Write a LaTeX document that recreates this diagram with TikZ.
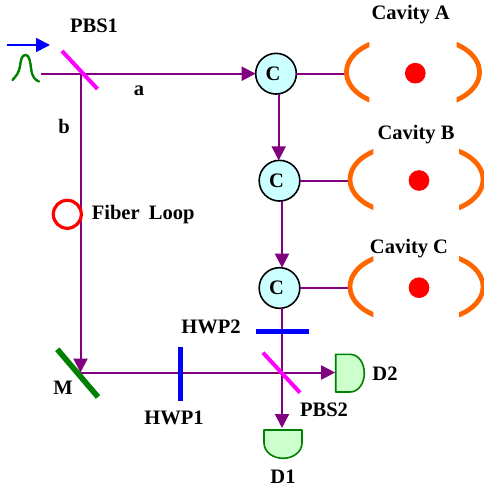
\documentclass[tikz,border=0pt]{standalone}
\usepackage{fontspec}
\setmainfont{Liberation Serif}
\usetikzlibrary{arrows.meta,calc}
\definecolor{beam}{RGB}{128,0,128}
\definecolor{orng}{RGB}{255,102,0}
\definecolor{dgreen}{RGB}{0,128,0}
\definecolor{cfill}{RGB}{204,255,255}
\definecolor{dfill}{RGB}{204,255,204}
\definecolor{pink}{RGB}{255,0,255}
\definecolor{pureblue}{RGB}{0,0,255}
\definecolor{purered}{RGB}{255,0,0}
\tikzset{
  x=0.75pt,y=-0.75pt,
  lbl/.style={font=\bfseries\fontsize{15.4}{17}\selectfont,inner sep=0pt,text=black},
  beamline/.style={draw=beam,line width=1.5pt},
  beamarrow/.style={beamline,-{Triangle[length=10.5pt,width=10.5pt,fill=beam]}},
  coupler/.style={circle,draw=black,line width=1.2pt,fill=cfill,minimum size=30.5pt,inner sep=0pt,outer sep=0pt,font=\bfseries\fontsize{15.4}{17}\selectfont},
  atom/.style={circle,fill=purered,minimum size=15.5pt,inner sep=0pt},
  mirror/.style={draw=orng,line width=3.6pt},
  pbs/.style={draw=pink,line width=3pt},
  hwp/.style={draw=pureblue,line width=3.4pt},
  det/.style={draw=dgreen,fill=dfill,line width=1.2pt,line join=round},
}
\newcommand{\cavitymirrors}[5]{% left outer x, left clip, right clip, right outer x, centre y
  \begin{scope}
    \clip (#1-5,#5-40) rectangle (#2,#5+40);
    \draw[mirror] (#1+50,#5) ellipse [x radius=50,y radius=33];
  \end{scope}
  \begin{scope}
    \clip (#3,#5-40) rectangle (#4+5,#5+40);
    \draw[mirror] (#4-50,#5) ellipse [x radius=50,y radius=33];
  \end{scope}
}
\begin{document}
\begin{tikzpicture}
\useasboundingbox (0,0) rectangle (483,491);
% named points
\coordinate (in) at (41,73.7);
\coordinate (split) at (80.5,73.7);
\coordinate (pA) at (62,51);
\coordinate (pB) at (97.5,89);
\coordinate (mir) at (80.5,372.5);
\coordinate (leftA) at (348.5,73.7);
\coordinate (leftB) at (352,180.7);
\coordinate (leftC) at (352,288);
% couplers and atoms
\node[coupler] (ca) at (276,73.7) {C\kern4.5pt};
\node[coupler] (cb) at (279.5,180.7) {C\kern4.5pt};
\node[coupler] (cc) at (279.5,288) {C\kern4.5pt};
\node[atom] (atomA) at (415.3,73.2) {};
\node[atom] (atomB) at (419,180.5) {};
\node[atom] (atomC) at (419,287.7) {};
% detectors
\draw[det] (335.7,354.3) -- (350,354.3) .. controls (358.5,354.3) and (364.3,363) .. (364.3,373.2) .. controls (364.3,383.4) and (358.5,392) .. (350,392) -- (335.7,392) -- cycle;
\coordinate (d2) at (335.2,372.5);
\draw[det] (264,430) -- (302,430) -- (302,443) .. controls (302,452) and (293,458.3) .. (283,458.3) .. controls (273,458.3) and (264,452) .. (264,443) -- cycle;
\coordinate (d1) at (282,428);
% beams
\draw[beamline] (ca.east) -- (leftA);
\draw[beamline] (cb.east) -- (leftB);
\draw[beamline] (cc.east) -- (leftC);
\draw[beamarrow] (in) -- (ca.west);
\draw[beamarrow] (split) -- (mir);
\draw[beamarrow] (mir) -- (d2);
\draw[beamarrow] (ca.south -| 278.7,0) -- (cb.north -| 278.7,0);
\draw[beamarrow] (cb.south -| 282,0) -- (cc.north -| 282,0);
\draw[beamarrow] (cc.south -| 282,0) -- (d1);
% cavities
\cavitymirrors{346.5}{369.3}{456.7}{479.5}{72.2}
\cavitymirrors{350}{373.3}{459}{483}{179.5}
\cavitymirrors{350}{373.3}{459}{483}{286.7}
% optics
\draw[pbs] (pA) -- (pB);
\draw[pbs] (263,352.7) -- (300,392.7);
\draw[draw=dgreen,line width=4.2pt] (57.3,349.3) -- (98,397);
\draw[hwp] (180.7,346.7) -- (180.7,400.7);
\draw[hwp] (255.7,331.7) -- (309.3,331.7);
\node[circle,draw=purered,line width=2.4pt,minimum size=21pt,inner sep=0pt] (loop) at (67.3,214.3) {};
% input
\coordinate (arrS) at (7,45);
\coordinate (arrE) at (50,45);
\draw[draw=pureblue,line width=1.2pt,-{Triangle[length=10.5pt,width=10.5pt,fill=pureblue]}] (arrS) -- (arrE);
\draw[draw=dgreen,line width=1.8pt,line cap=round] (12.5,80) .. controls (16,76) and (18.5,74) .. (20,66) .. controls (21,59) and (22,55) .. (25.5,55) .. controls (29,55) and (30,60) .. (31,68) .. controls (32,77) and (35,80) .. (39,81.5);
% labels
\node[lbl] (tPBS1) at (94,26) {PBS1};
\node[lbl] (tA) at (139,90.5) {a};
\node[lbl] (tB) at (64,126.5) {b};
\node[lbl,anchor=west] (tFL) at (91.5,214.5) {Fiber\hspace{0.45em}Loop};
\node[lbl] (tCavA) at (410.7,14.5) {Cavity A};
\node[lbl] (tCavB) at (416,135) {Cavity B};
\node[lbl] (tCavC) at (409,248.5) {Cavity C};
\node[lbl] (tHWP2) at (211,327) {HWP2};
\node[lbl] (tHWP1) at (174,418) {HWP1};
\node[lbl] (tM) at (63,387.5) {M};
\node[lbl] (tPBS2) at (324,410) {PBS2};
\node[lbl] (tD2) at (385,374) {D2};
\node[lbl] (tD1) at (283,477) {D1};
\end{tikzpicture}
\end{document}
